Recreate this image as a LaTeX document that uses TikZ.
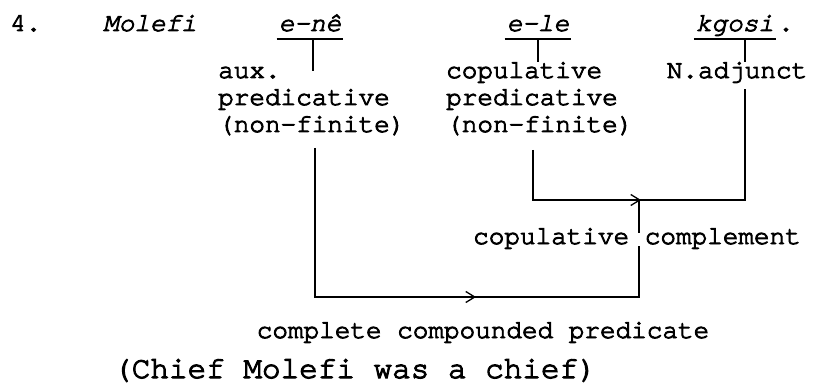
\documentclass[tikz,border=0pt]{standalone}
\usepackage{fontspec}
\newfontfamily\curfont{TeX Gyre Cursor}[Ligatures={NoCommon,NoRequired}]
\usetikzlibrary{calc,arrows.meta}
\newcommand{\tw}{\curfont\addfontfeatures{FakeBold=3.5}}
\begin{document}
\begin{tikzpicture}[x=1pt,y=-1pt,
  lbl/.style={inner sep=0pt, font=\fontsize{26}{28}\selectfont\tw},
  itl/.style={inner sep=0pt, font=\fontsize{26}{28}\selectfont\curfont\itshape\addfontfeatures{FakeBold=3.5}},
  big/.style={inner sep=0pt, font=\fontsize{31}{34}\selectfont\tw},
  ln/.style={line width=1.7pt},
  chev/.style={line width=1.3pt, -{Straight Barb[length=9pt,width=11pt,line width=1.3pt]}}
]
\useasboundingbox (0,0) rectangle (814,390);
% top row
\node[lbl, anchor=base west] (num) at (10,31) {4.};
\node[itl, anchor=base west] (molefi) at (103,31) {Molefi};
\node[itl, anchor=base] (ene) at (310,31) {e-nê};
\node[itl, anchor=base] (ele) at (538,31) {e-le};
\node[itl, anchor=base] (kgosi) at (735,31) {kgosi};
\node[lbl, anchor=base west] (dot) at (778,31) {.};
% labels
\node[lbl, anchor=base west] (aux) at (218,78) {aux.};
\node[lbl, anchor=base west] (pred1) at (218,105) {predicative};
\node[lbl, anchor=base west] (nf1) at (218,132) {(non-finite)};
\node[lbl, anchor=base west] (cop) at (446,78) {copulative};
\node[lbl, anchor=base west] (pred2) at (446,105) {predicative};
\node[lbl, anchor=base west] (nf2) at (446,132) {(non-finite)};
\node[lbl, anchor=base] (nadj) at (737,78) {N.adjunct};
\node[lbl, anchor=base] (cc) at (637,244) {copulative complement};
\node[lbl, anchor=base] (ccp) at (483,338) {complete compounded predicate};
\node[big, anchor=base west] (gloss) at (113,378) {(Chief Molefi was a chief)};
% underlines
\draw[ln] ($(ene.base west)+(-2,8)$) -- ($(ene.base east)+(2,8)$);
\draw[ln] ($(ele.base west)+(-2,8)$) -- ($(ele.base east)+(2,8)$);
\draw[ln] ($(kgosi.base west)+(-2,8)$) -- ($(kgosi.base east)+(2,8)$);
% stems from words
\coordinate (u1) at ($(ene.base)+(3,8)$);
\coordinate (u2) at ($(ele.base)+(0,8)$);
\coordinate (u3) at ($(kgosi.base)+(10,8)$);
\draw[ln] (u1) -- ++(0,32);
\draw[ln] (u2) -- (u2 |- cop.north);
\draw[ln] (u3) -- (u3 |- nadj.north);
% lower structure
\coordinate (s1) at (315,148);
\coordinate (s2) at (533,150);
\coordinate (s3) at (745,89);
\coordinate (j1) at (639,200);
\coordinate (j2) at (639,297);
\draw[ln] (s2) |- (j1) -| (s3);
\draw[chev] ($(j1)+(-20,0)$) -- ($(j1)+(2,0)$);
\draw[ln] (j1) -- (j1 |- 0,233);
\draw[ln] (s1) |- (j2) -- (j2 |- 0,246);
\draw[chev] (440,297) -- (476,297);
\end{tikzpicture}
\end{document}
